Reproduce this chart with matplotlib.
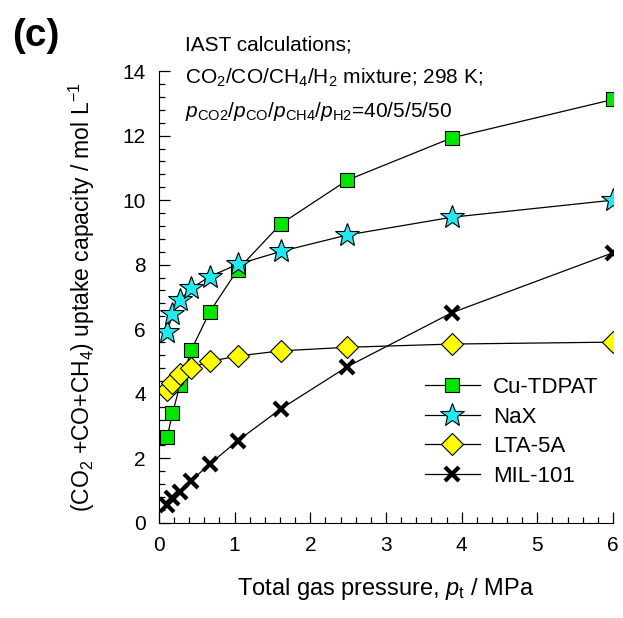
import matplotlib
matplotlib.use("Agg")
import matplotlib.pyplot as plt

plt.rcParams['font.family'] = ['Liberation Sans', 'DejaVu Sans']
plt.rcParams['mathtext.fontset'] = 'custom'
plt.rcParams['mathtext.rm'] = 'Liberation Sans'
plt.rcParams['mathtext.it'] = 'Liberation Sans:italic'
plt.rcParams['mathtext.bf'] = 'Liberation Sans:bold'

# total pressure, MPa
p_total = [0.11, 0.18, 0.28, 0.43, 0.67, 1.04, 1.61, 2.49, 3.87, 6.0]

# CO2+CO+CH4 uptake capacity, mol/L
cu_tdpat = [2.65, 3.40, 4.27, 5.36, 6.53, 7.84, 9.26, 10.62, 11.93, 13.12]
nax = [5.92, 6.46, 6.91, 7.27, 7.63, 8.01, 8.41, 8.92, 9.47, 10.0]
lta_5a = [4.12, 4.33, 4.61, 4.81, 5.00, 5.17, 5.33, 5.44, 5.54, 5.60]
mil_101 = [0.56, 0.76, 0.97, 1.31, 1.82, 2.54, 3.53, 4.84, 6.51, 8.37]

fig = plt.figure(figsize=(6.23, 6.18), dpi=100)
ax = fig.add_axes([0.255, 0.154, 0.729, 0.731])

ax.plot(p_total, cu_tdpat, '-', color='black', lw=0.9, marker='s', ms=10,
        mfc='#00E600', mec='black', mew=0.8, label='Cu-TDPAT')
ax.plot(p_total, nax, '-', color='black', lw=0.9, marker='*', ms=18,
        mfc='#22E8F0', mec='black', mew=0.8, label='NaX')
ax.plot(p_total, lta_5a, '-', color='black', lw=0.9, marker='D', ms=11,
        mfc='#FFFF00', mec='black', mew=0.8, label='LTA-5A')
ax.plot(p_total, mil_101, '-', color='black', lw=0.9, marker='x', ms=10,
        mec='black', mew=3, label='MIL-101')

ax.set_xlim(0, 6)
ax.set_ylim(0, 14)
ax.set_xticks(range(0, 7))
ax.set_yticks(range(0, 15, 2))
ax.set_xticks([i * 0.2 for i in range(31)], minor=True)
ax.set_yticks([i * 0.4 for i in range(36)], minor=True)
ax.tick_params(which='both', direction='in', labelsize=15, width=0.9)
ax.tick_params(which='major', length=8, pad=9.5)
ax.tick_params(which='minor', length=4.5)
ax.spines['top'].set_visible(False)
ax.spines['right'].set_visible(False)

ax.set_xlabel(r'Total gas pressure, $p_\mathrm{t}$ / MPa', fontsize=17, labelpad=15)
ax.set_ylabel(r'(CO$_2$ +CO+CH$_4$) uptake capacity / mol L$^{-1}$', fontsize=16.5,
              labelpad=18)

ax.legend(loc='lower right', bbox_to_anchor=(1.012, 0.036), frameon=False,
          fontsize=16, handlelength=2.45, handletextpad=0.6, labelspacing=0.38)

fig.text(0.297, 0.927, 'IAST calculations;', fontsize=15, va='center')
fig.text(0.297, 0.874, r'CO$_2$/CO/CH$_4$/H$_2$ mixture; 298 K;', fontsize=15, va='center')
fig.text(0.297, 0.820,
         r'$p_\mathrm{CO2}$/$p_\mathrm{CO}$/$p_\mathrm{CH4}$/$p_\mathrm{H2}$=40/5/5/50',
         fontsize=15, va='center')
fig.text(0.019, 0.941, '(c)', fontsize=28, fontweight='bold', va='center')

fig.savefig('out.png', dpi=100)
